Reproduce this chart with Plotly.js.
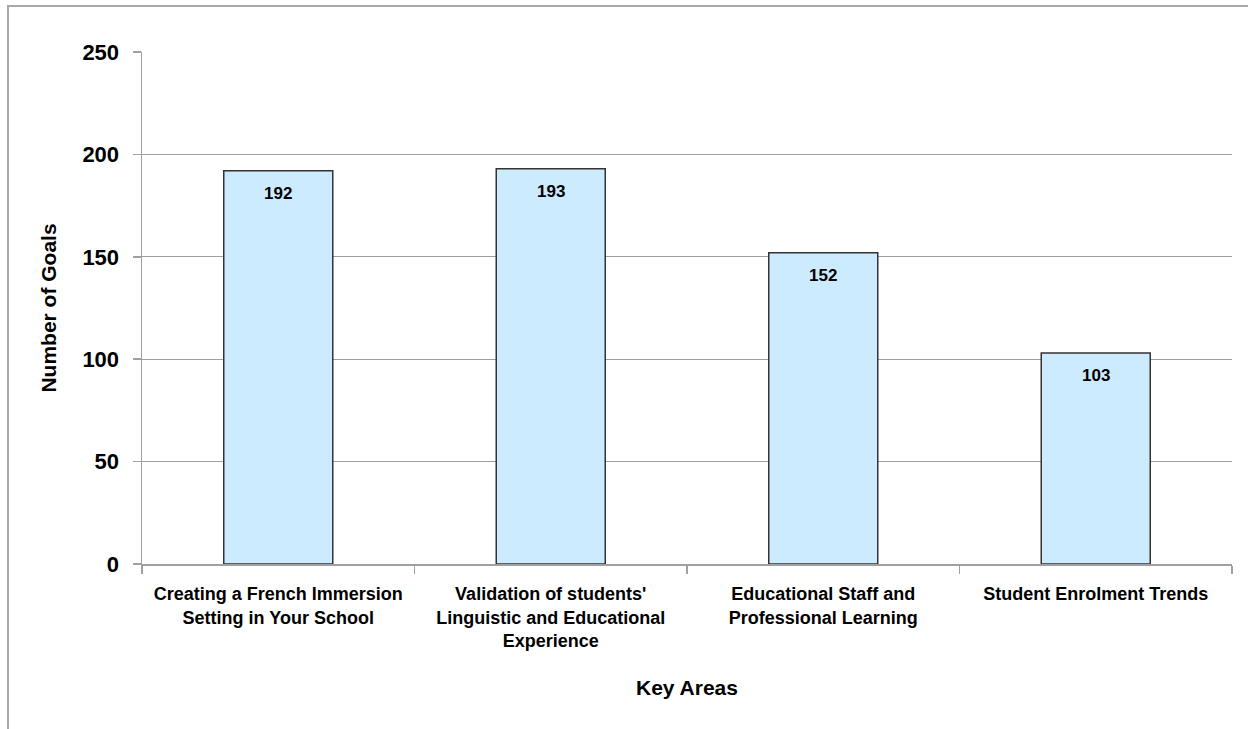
<!DOCTYPE html>
<html>
<head>
<meta charset="utf-8">
<script src="https://cdn.plot.ly/plotly-3.0.1.min.js"></script>
<style>
  html, body { margin: 0; padding: 0; background: #fff; width: 1248px; height: 729px; overflow: hidden; }
  #frame { position: absolute; left: 7px; top: 5px; width: 1300px; height: 800px; border: 2px solid #a8a8a8; }
  #chart { position: absolute; left: 0; top: 0; width: 1248px; height: 729px; }
</style>
</head>
<body>
<div id="frame"></div>
<div id="chart"></div>
<script>
const categories = [
  "Creating a French Immersion<br>Setting in Your School",
  "Validation of students'<br>Linguistic and Educational<br>Experience",
  "Educational Staff and<br>Professional Learning",
  "Student Enrolment Trends"
];
const goals = [192, 193, 152, 103];
const yTicks = [0, 50, 100, 150, 200, 250];

const FONT = "Liberation Sans, Arial, Helvetica, sans-serif";
const GRID = "#a0a0a0";

const trace = {
  type: "bar",
  x: categories,
  y: goals,
  marker: { color: "#CCEBFF", line: { color: "#333333", width: 1.5 } },
  hoverinfo: "x+y"
};

const annotations = categories.map((c, i) => ({
  x: c, y: goals[i], xref: "x", yref: "y",
  text: String(goals[i]), showarrow: false,
  yanchor: "top", yshift: -11,
  font: { family: FONT, size: 17, color: "#000", weight: 700 }
}));

const layout = {
  width: 1248, height: 729,
  margin: { l: 142, r: 16, t: 52, b: 165 },
  paper_bgcolor: "rgba(0,0,0,0)",
  plot_bgcolor: "#fff",
  bargap: 0.6,
  showlegend: false,
  font: { family: FONT, color: "#000" },
  xaxis: {
    type: "category",
    tickson: "boundaries",
    ticks: "outside", ticklen: 8, tickcolor: GRID, tickwidth: 1.5,
    showline: true, linecolor: GRID, linewidth: 1.5,
    showgrid: false,
    ticklabelstandoff: 13,
    tickfont: { family: FONT, size: 18, color: "#000", weight: 700 },
    title: { text: "Key Areas", standoff: 30, font: { family: FONT, size: 21, color: "#000", weight: 700 } },
    automargin: false
  },
  yaxis: {
    range: [0, 250],
    tickvals: yTicks,
    ticktext: yTicks.map(String),
    ticks: "outside", ticklen: 8, tickcolor: GRID, tickwidth: 1.5,
    showline: true, linecolor: GRID, linewidth: 1.5,
    showgrid: true, gridcolor: GRID, gridwidth: 1.2,
    zeroline: false,
    ticklabelstandoff: 9,
    tickfont: { family: FONT, size: 22, color: "#000", weight: 700 },
    title: { text: "Number of Goals", standoff: 20, font: { family: FONT, size: 21, color: "#000", weight: 700 } },
    automargin: false
  },
  annotations: annotations
};

Plotly.newPlot("chart", [trace], layout, { displayModeBar: false, staticPlot: true });
</script>
</body>
</html>
